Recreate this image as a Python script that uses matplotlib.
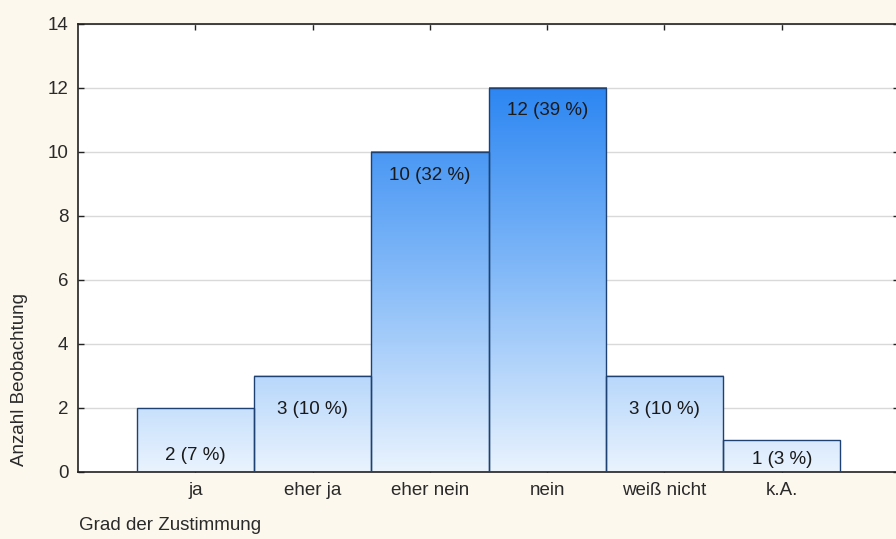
import numpy as np
import matplotlib
matplotlib.use('Agg')
import matplotlib.pyplot as plt
from matplotlib.colors import LinearSegmentedColormap

plt.rcParams['font.family'] = ['Liberation Sans', 'DejaVu Sans']

# Antworten auf die Frage
categories = ['ja', 'eher ja', 'eher nein', 'nein', 'weiß nicht', 'k.A.']
counts = [2, 3, 10, 12, 3, 1]
percents = [7, 10, 32, 39, 10, 3]
# Abstand der Beschriftung unter der Balkenoberkante (Pixel)
label_drop = [48, 33, 24, 23, 33, 19]

bg = '#fcf8ee'
fs = 13.5
txt = '#2a2a2a'
fig = plt.figure(figsize=(8.96, 5.39), dpi=100, facecolor=bg)
ax = fig.add_axes([78 / 896, 67 / 539, 821 / 896, 448 / 539])
ax.set_facecolor('white')

x = np.arange(len(categories))
cmap = LinearSegmentedColormap.from_list('blau', ['#e9f3fe', '#86bbf8', '#2c86f2'])

# Balken mit vertikalem Farbverlauf (absolut auf die y-Achse bezogen)
bars = ax.bar(x, counts, width=1.0, facecolor='none', edgecolor='#1d4172',
              linewidth=1.0, zorder=3)
for xi, h in zip(x, counts):
    grad = np.linspace(0, h, 256).reshape(-1, 1)
    ax.imshow(grad, extent=[xi - 0.5, xi + 0.5, 0, h], origin='lower',
              aspect='auto', cmap=cmap, vmin=0, vmax=12, zorder=2)

for xi, h, p, d in zip(x, counts, percents, label_drop):
    ax.annotate(f'{h} ({p} %)', xy=(xi, h), xytext=(0, -d * 72 / 100),
                textcoords='offset points', ha='center', va='center',
                fontsize=fs, color='#1a1a1a', zorder=4)

ax.set_xlim(-1, 6)
ax.set_ylim(0, 14)
ax.set_yticks(range(0, 15, 2))
ax.set_xticks(x)
ax.set_xticklabels(categories)
ax.grid(axis='y', color='#d9d9d9', linewidth=1.0, zorder=1)
ax.set_axisbelow(True)

ax.tick_params(axis='both', direction='in', length=4, width=1.0, color='#222222',
               labelsize=fs, labelcolor=txt, top=True, right=True)
ax.tick_params(axis='x', pad=7)
ax.tick_params(axis='y', pad=7)
for s in ax.spines.values():
    s.set_color('#222222')
    s.set_linewidth(1.2)

fig.text(79 / 896, 1 - 525 / 539, 'Grad der Zustimmung', ha='left', va='center',
         fontsize=fs, color=txt)
fig.text(20 / 896, 1 - 379 / 539, 'Anzahl Beobachtung', ha='center', va='center',
         rotation=90, fontsize=fs, color=txt)

fig.savefig('out.png', dpi=100, facecolor=bg)
